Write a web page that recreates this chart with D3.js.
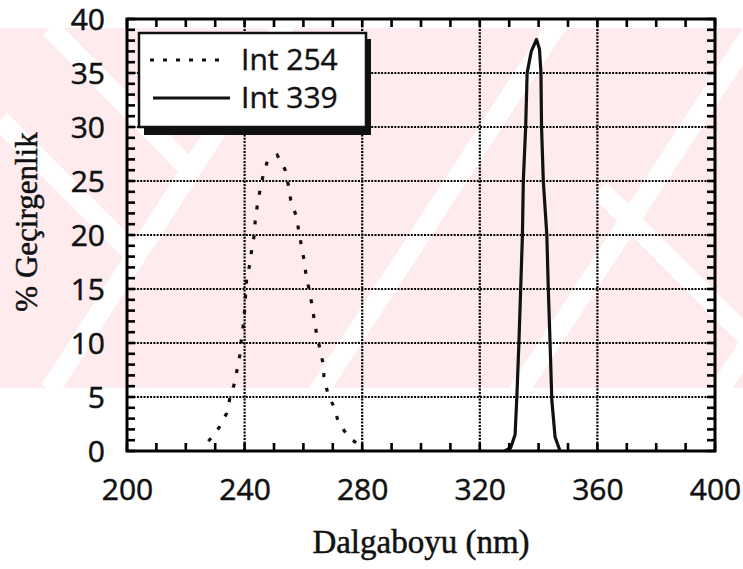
<!DOCTYPE html>
<html>
<head>
<meta charset="utf-8">
<script src="https://cdn.jsdelivr.net/npm/d3@7"></script>
<style>
body{margin:0;background:#fff;}
</style>
</head>
<body>
<div id="chart"></div>
<script>
// Int 254 (dotted) - [nm, %]
var int254=[[227.7,0.9],[231.4,2.2],[233.9,3.5],[235.0,4.9],[236.6,6.3],[237.5,7.6],[238.4,8.9],[238.9,10.3],
	[239.8,12.2],[240.3,14.3],[240.7,16.0],[241.8,17.3],[242.5,18.8],[243.3,20.0],[243.6,21.3],[244.3,22.7],
	[245.2,24.1],[246.2,25.4],[247.7,26.8],[251.1,27.4],[253.7,26.1],[254.9,24.6],[255.7,23.2],[257.5,21.8],
	[258.3,20.6],[259.2,19.2],[260.2,17.7],[260.9,16.3],[261.9,15.0],[262.8,13.7],[263.6,12.3],[264.5,10.8],
	[265.6,9.5],[266.6,8.2],[267.0,6.9],[268.3,5.3],[270.2,4.2],[271.9,2.7],[275.3,1.3],[279.2,0.5]];
// Int 339 (solid)
var int339=[[328.5,0],[330.5,0.3],[332.0,1.5],[332.6,5.0],[333.3,10],[333.9,15],[334.5,20],[334.8,25],
	[335.6,30],[336.1,35],[337.5,37.0],[339.3,38.1],[340.3,37.2],[340.8,35.0],[341.0,30.0],[341.6,25.0],
	[342.8,20.0],[343.3,15.0],[343.9,10.0],[344.5,4.7],[345.6,1.3],[347.3,0]];
var xTicks=[200,240,280,320,360,400];
var yTicks=[0,5,10,15,20,25,30,35,40];
var xMinor=d3.range(200,401,10);
var yMinor=d3.range(0,41,1);
var seriesNames=["Int 254","Int 339"];
var xLabel="Dalgaboyu (nm)";
var yLabel="% Geçirgenlik";

var W=743,H=569;
var L=127,R=715,T=19,B=451;
var ink="#111";

var svg=d3.select("#chart").append("svg").attr("width",W).attr("height",H);
svg.append("rect").attr("width",W).attr("height",H).attr("fill","#fff");

// faint pink watermark behind the chart
svg.append("clipPath").attr("id","wmclip").append("rect").attr("x",0).attr("y",28).attr("width",W).attr("height",360);
var wm=svg.append("g").attr("clip-path","url(#wmclip)");
wm.append("rect").attr("x",0).attr("y",28).attr("width",W).attr("height",360).attr("fill","#fdebee");
[[50,390,300,0],[300,420,560,20],[500,420,760,20],[700,420,960,20],
 [0,120,140,260],[50,28,190,170],[600,190,760,350]].forEach(function(s){
	wm.append("line").attr("x1",s[0]).attr("y1",s[1]).attr("x2",s[2]).attr("y2",s[3])
		.attr("stroke","#fff").attr("stroke-width",20);
});

var x=d3.scaleLinear().domain([200,400]).range([L,R]);
var y=d3.scaleLinear().domain([0,40]).range([B,T]);

//***************************
//GRID
//***************************
var grid=svg.append("g").attr("stroke","#000").attr("stroke-width",2.2).attr("stroke-dasharray","2,1.3");
grid.selectAll(".gx").data(xTicks.slice(1,-1)).enter().append("line")
	.attr("x1",function(d){return x(d);}).attr("x2",function(d){return x(d);}).attr("y1",T).attr("y2",B);
grid.selectAll(".gy").data(yTicks.slice(1,-1)).enter().append("line")
	.attr("x1",L).attr("x2",R).attr("y1",function(d){return y(d);}).attr("y2",function(d){return y(d);});

svg.append("rect").attr("x",L).attr("y",T).attr("width",R-L).attr("height",B-T)
	.attr("fill","none").attr("stroke","#000").attr("stroke-width",3);

// tick labels
var xl=svg.append("g").attr("transform","translate(0,"+(B+38)+")")
	.call(d3.axisBottom(x).tickValues(xTicks).tickSize(0).tickPadding(0).tickFormat(d3.format("d")));
var yl=svg.append("g").attr("transform","translate("+(L-22)+",0)")
	.call(d3.axisLeft(y).tickValues(yTicks).tickSize(0).tickPadding(0).tickFormat(d3.format("d")));
[xl,yl].forEach(function(g){
	g.select(".domain").remove();
	g.selectAll("text").attr("font-family","Open Sans, sans-serif").attr("font-size",30)
		.attr("fill",ink).attr("stroke",ink).attr("stroke-width",0.5);
});
xl.selectAll("text").attr("dy","0.36em");
yl.selectAll("text").attr("dy","0.36em");

svg.append("text").attr("x",(L+R)/2).attr("y",553).attr("text-anchor","middle")
	.attr("font-family","Liberation Serif, serif").attr("font-size",33).attr("fill",ink)
	.attr("stroke",ink).attr("stroke-width",0.5).text(xLabel);
svg.append("text").attr("transform","translate(37,222) rotate(-90)").attr("text-anchor","middle")
	.attr("font-family","Liberation Serif, serif").attr("font-size",31).attr("fill",ink)
	.attr("stroke",ink).attr("stroke-width",0.5).text(yLabel);

//***************************
//LINES
//***************************
var line=d3.line().x(function(d){return x(d[0]);}).y(function(d){return y(d[1]);});
svg.append("path").attr("d",line(int254)).attr("fill","none").attr("stroke",ink)
	.attr("stroke-width",3.2).attr("stroke-dasharray","4,11");
svg.append("path").attr("d",line(int339)).attr("fill","none").attr("stroke",ink)
	.attr("stroke-width",3.2).attr("stroke-linejoin","round");

//***************************
//TICKS (inward) as small rects
//***************************
var TL=8, TW=2.6;
var ticks=svg.append("g").attr("fill","#000");
ticks.selectAll(".tb").data(xMinor).enter().append("rect").attr("class","tb")
	.attr("x",function(d){return x(d)-TW/2;}).attr("y",B-TL).attr("width",TW).attr("height",TL);
ticks.selectAll(".tt").data(xMinor).enter().append("rect").attr("class","tt")
	.attr("x",function(d){return x(d)-TW/2;}).attr("y",T).attr("width",TW).attr("height",TL);
ticks.selectAll(".tl").data(yMinor).enter().append("rect").attr("class","tl")
	.attr("x",L).attr("y",function(d){return y(d)-TW/2;}).attr("width",TL).attr("height",TW);
ticks.selectAll(".tr").data(yMinor).enter().append("rect").attr("class","tr")
	.attr("x",R-TL).attr("y",function(d){return y(d)-TW/2;}).attr("width",TL).attr("height",TW);

//***************************
//LEGEND
//***************************
var lg=svg.append("g");
lg.append("rect").attr("x",144).attr("y",39).attr("width",227).attr("height",96).attr("fill",ink);
lg.append("rect").attr("x",139).attr("y",33).attr("width",227).attr("height",94)
	.attr("fill","#fff").attr("stroke",ink).attr("stroke-width",2.5);
var lgStyles=["4,9",null];
seriesNames.forEach(function(n,i){
	var ly=60+i*38;
	var l=lg.append("line").attr("x1",150+i*3).attr("x2",220+i*10).attr("y1",ly).attr("y2",ly)
		.attr("stroke",ink).attr("stroke-width",3);
	if(lgStyles[i])l.attr("stroke-dasharray",lgStyles[i]);
	lg.append("text").attr("x",241).attr("y",ly+10).attr("font-family","Open Sans, sans-serif")
		.attr("font-size",30).attr("fill",ink).attr("stroke",ink).attr("stroke-width",0.4).text(n);
});
</script>
</body>
</html>
